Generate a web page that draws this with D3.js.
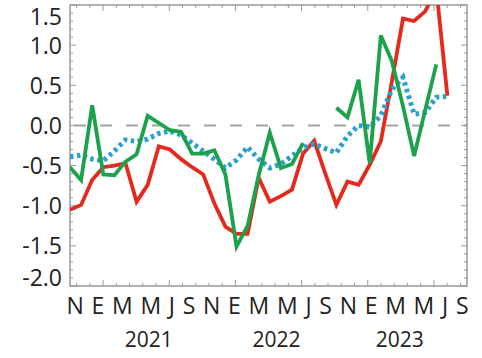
<!DOCTYPE html>
<html>
<head>
<meta charset="utf-8">
<script src="https://cdn.jsdelivr.net/npm/d3@7"></script>
<style>
  html, body { margin: 0; padding: 0; background: #fff; }
  svg { display: block; }
  text { font-family: "Open Sans", "DejaVu Sans", sans-serif; fill: #222; }
</style>
</head>
<body>
<svg id="chart" width="482" height="358"></svg>
<script>
// Monthly anomalies, Nov 2020 .. Sep 2023 (index 0 = Nov 2020)
const redSeries = [
  -1.05, -0.99, -0.68, -0.52, -0.50, -0.47, -0.95, -0.74, -0.26, -0.30,
  -0.42, -0.52, -0.61, -0.97, -1.26, -1.35, -1.35, -0.65, -0.95, -0.88,
  -0.80, -0.35, -0.19, -0.60, -0.99, -0.70, -0.74, -0.49, -0.20, 0.55,
   1.33,  1.30,  1.42,  1.70,  0.37
];
const greenSeries = [
  -0.52, -0.68,  0.25, -0.61, -0.62, -0.45, -0.36,  0.12,  0.03, -0.06,
  -0.08, -0.35, -0.35, -0.31, -0.61, -1.51, -1.25, -0.62, -0.09, -0.53,
  -0.48, -0.22,  null,  null,  0.22,  0.10,  0.57, -0.47,  1.12,  0.80,
   0.24, -0.38,  0.19,  0.76
];
const blueSeries = [
  -0.39, -0.37, -0.42, -0.44, -0.32, -0.18, -0.20, -0.17, -0.10, -0.07,
  -0.12, -0.22, -0.32, -0.42, -0.53, -0.43, -0.27, -0.42, -0.53, -0.48,
  -0.38, -0.28, -0.23, -0.29, -0.34, -0.13,  0.00, -0.02,  0.12,  0.45,
   0.60,  0.14,  0.16,  0.35,  0.36
];
const monthLabels = ["N","E","M","M","J","S","N","E","M","M","J","S","N","E","M","M","J","S"];
const yearLabels = ["2021", "2022", "2023"];
const yearCentres = [7.1, 18.6, 29.7];          // in month-index units
const yTickValues = [-2.0, -1.5, -1.0, -0.5, 0.0, 0.5, 1.0, 1.5];

const svg = d3.select("#chart");
const L = 70, R = 467, T = 5, B = 286;

const x = d3.scaleLinear().domain([0, 34]).range([L, L + 34 * 11.1]);
const y = d3.scaleLinear().domain([-2, 1.5]).range([B, T]);
// frame tick scale: major every half-year step, five minor intervals
const xt = d3.scaleLinear().domain([-0.5, 5.5]).range([L, R]);

svg.append("defs").append("clipPath").attr("id", "plot")
  .append("rect").attr("x", L).attr("y", T).attr("width", R - L).attr("height", B - T);

const frameColor = "#999";

// zero reference line
svg.append("line")
  .attr("x1", L).attr("x2", R).attr("y1", y(0)).attr("y2", y(0))
  .attr("stroke", "#a3a3a3").attr("stroke-width", 2)
  .attr("stroke-dasharray", "12 14").attr("stroke-dashoffset", -4);

// frame
svg.append("rect")
  .attr("x", L).attr("y", T).attr("width", R - L).attr("height", B - T)
  .attr("fill", "none").attr("stroke", frameColor).attr("stroke-width", 1.5);

// y ticks (left and right, inward)
const gTicks = svg.append("g").attr("stroke", frameColor).attr("stroke-width", 1);
const yMinor = d3.range(-20, 16).map(d => d / 10);
yMinor.forEach(v => {
  const major = Math.abs(v * 2 - Math.round(v * 2)) < 1e-6;
  const len = major ? 6 : 3;
  gTicks.append("line").attr("x1", L).attr("x2", L + len).attr("y1", y(v)).attr("y2", y(v));
  gTicks.append("line").attr("x1", R).attr("x2", R - len).attr("y1", y(v)).attr("y2", y(v));
});
// x ticks (bottom and top, inward)
const xMinor = d3.range(-2, 28).map(d => d / 5);
xMinor.forEach(v => {
  const major = Math.abs(v - Math.round(v)) < 1e-6;
  const len = major ? 6 : 3;
  gTicks.append("line").attr("x1", xt(v)).attr("x2", xt(v)).attr("y1", B).attr("y2", B - len);
  gTicks.append("line").attr("x1", xt(v)).attr("x2", xt(v)).attr("y1", T).attr("y2", T + len);
});

// y labels (end labels nudged inside the frame)
svg.append("g").selectAll("text").data(yTickValues).join("text")
  .attr("x", 62)
  .attr("y", d => Math.min(Math.max(y(d) + 8.5, 24.8), B))
  .attr("text-anchor", "end")
  .attr("font-size", 23)
  .text(d => d.toFixed(1));

// month initials along the bottom
svg.append("text")
  .attr("x", 66.5).attr("y", 313.5)
  .attr("font-size", 23)
  .attr("textLength", 402).attr("lengthAdjust", "spacing")
  .text(monthLabels.join(" "));

// years
svg.append("g").selectAll("text").data(yearLabels).join("text")
  .attr("x", (d, i) => x(yearCentres[i]))
  .attr("y", 347)
  .attr("text-anchor", "middle")
  .attr("font-size", 21)
  .text(d => d);

// series
const line = d3.line()
  .defined(d => d != null)
  .x((d, i) => x(i))
  .y(d => y(d));

const gData = svg.append("g").attr("clip-path", "url(#plot)");
gData.append("path").datum(redSeries)
  .attr("d", line).attr("fill", "none")
  .attr("stroke", "#e5291d").attr("stroke-width", 3.8).attr("stroke-linejoin", "miter");
gData.append("path").datum(blueSeries)
  .attr("d", line).attr("fill", "none")
  .attr("stroke", "#2a9fd4").attr("stroke-width", 5)
  .attr("stroke-dasharray", "3.5 3.5");
gData.append("path").datum(greenSeries)
  .attr("d", line).attr("fill", "none")
  .attr("stroke", "#1ba24b").attr("stroke-width", 3.8).attr("stroke-linejoin", "miter");
</script>
</body>
</html>
